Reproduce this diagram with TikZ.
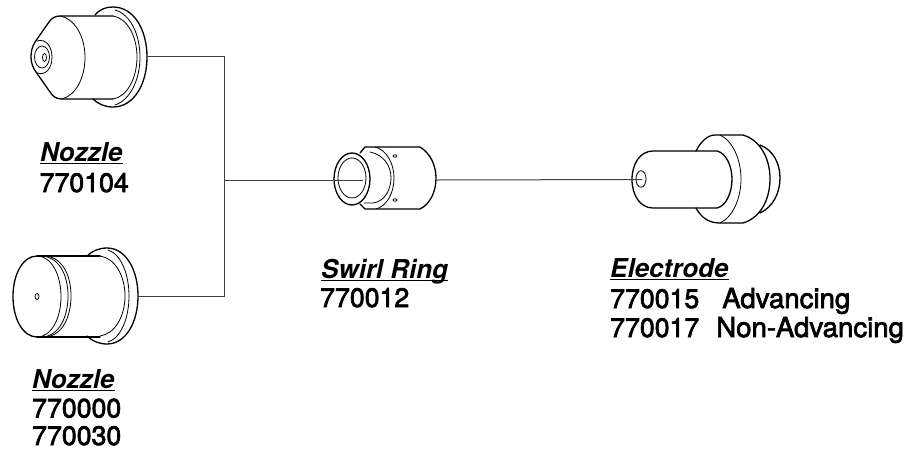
\documentclass[tikz,border=0pt]{standalone}
\usepackage{fontspec}
\setmainfont{TeX Gyre Heros}
\newfontfamily\medfont[FakeBold=2.5]{TeX Gyre Heros}
\tikzset{
  part/.style={draw=black,line width=1.3pt,line join=round,line cap=round},
  thin part/.style={draw=black,line width=0.8pt,line cap=round},
  wire/.style={draw=black!75,line width=1pt},
  lbl/.style={anchor=base west,inner sep=0pt,font=\fontsize{26.7}{29}\selectfont\medfont},
  ttlbl/.style={anchor=base west,inner sep=0pt,font=\fontsize{26}{29}\selectfont\bfseries\itshape},
}
\newcommand{\ttl}[1]{\setbox0=\hbox{#1}\rlap{\rule[-3.4pt]{\wd0}{1.3pt}}\box0}
\newcommand{\wrd}[1]{{\fontsize{27.6}{29}\selectfont #1}}
\begin{document}
\begin{tikzpicture}[x=1pt,y=-1pt]
\useasboundingbox (0,0) rectangle (909,450);
% Nozzle 1
\draw[part] (95,15) .. controls (100,9) and (106,7) .. (113,7) .. controls (134,7) and (147,30) .. (147,57) .. controls (147,84) and (134,107) .. (113,107) .. controls (105,107) and (98,104) .. (93,99);
\draw[thin part] (115,10) .. controls (130,14) and (140,34) .. (140,57) .. controls (140,80) and (130,100) .. (115,105);
\draw[thin part] (113,16) .. controls (127,18) and (137,36) .. (137,57) .. controls (137,78) and (127,97) .. (113,99);
\draw[part] (113,16) -- (60,16) .. controls (55,16) and (52,18) .. (49,22) -- (35,42) .. controls (32,47) and (31,52) .. (31,57) .. controls (31,63) and (33,68) .. (36,72) -- (50,92) .. controls (53,97) and (57,99) .. (62,99) -- (113,99);
\draw[thin part] (60,16) .. controls (74,18) and (85,36) .. (85,57) .. controls (85,78) and (76,95) .. (62,99);
\draw[thin part] (37,41) .. controls (46,38) and (52,47) .. (52,57) .. controls (52,68) and (46,76) .. (37,73);
\draw[thin part] (42,57) ellipse [x radius=7.5,y radius=11];
\draw[thin part] (44.5,57.5) ellipse [x radius=2,y radius=4];
\coordinate (n1) at (147,56);
% Nozzle 2
\draw[part] (87,256) .. controls (92,251) and (99,248) .. (107,248) .. controls (126,248) and (138,270) .. (138,296) .. controls (138,322) and (126,344) .. (107,344) .. controls (99,344) and (92,341) .. (87,336);
\draw[thin part] (108,250) .. controls (121,254) and (129,274) .. (129,296) .. controls (129,318) and (121,338) .. (108,342);
\draw[thin part] (100,256) .. controls (115,258) and (125,276) .. (125,296) .. controls (125,316) and (115,334) .. (100,336);
\draw[part] (37,256) -- (100,256);
\draw[part] (37,337) -- (100,337);
\draw[part] (37,256) .. controls (23,256) and (13,274) .. (13,296.5) .. controls (13,319) and (23,337) .. (37,337);
\draw[thin part] (37,256) .. controls (51,256) and (61,274) .. (61,296.5) .. controls (61,319) and (51,337) .. (37,337);
\draw[thin part] (43,256) .. controls (60,258) and (68,276) .. (68,296) .. controls (68,316) and (60,335) .. (43,337);
\draw[thin part] (46,256) .. controls (63,258) and (71,276) .. (71,296) .. controls (71,316) and (63,335) .. (46,337);
\draw[thin part] (37,296.5) ellipse [x radius=2,y radius=3];
\coordinate (n2) at (138,296);
% Swirl ring
\draw[part] (360,153) -- (365,147) -- (420,147) .. controls (430,153) and (436,165) .. (436,178) .. controls (436,192) and (430,204) .. (420,209) -- (365,209) -- (360,204);
\draw[thin part] (375,147) .. controls (387,150) and (394,164) .. (394,178) .. controls (394,193) and (387,206) .. (376,209);
\draw[thin part] (370,152) .. controls (384,155) and (391,166) .. (391,178) .. controls (391,190) and (384,202) .. (373,203) -- (364,203);
\draw[part] (352,179) ellipse [x radius=18,y radius=26];
\draw[thin part] (352,178) ellipse [x radius=14,y radius=20];
\draw[thin part] (395,156) ellipse [x radius=2,y radius=1.2];
\draw[thin part] (395,200) ellipse [x radius=2,y radius=1.2];
\coordinate (s2) at (363,180);
\coordinate (s3) at (437,180);
% Electrode
\draw[part] (696,151) .. controls (701,141) and (708,135) .. (715,135) -- (743,135) .. controls (760,140) and (770,158) .. (770,179) .. controls (770,200) and (760,218) .. (743,223) -- (720,223) .. controls (708,223) and (701,217) .. (696,208);
\draw[thin part] (720,135) .. controls (733,141) and (741,160) .. (741,179) .. controls (741,198) and (733,217) .. (720,223);
\draw[part] (760,145) .. controls (773,150) and (780,163) .. (780,178) .. controls (780,193) and (773,207) .. (760,213);
\draw[part] (653,151) -- (717,151) .. controls (726,153) and (732,166) .. (732,179) .. controls (732,193) and (726,206) .. (717,208) -- (653,208) .. controls (640,208) and (632,195) .. (632,179.5) .. controls (632,164) and (640,151) .. (653,151);
\draw[thin part] (641,179) ellipse [x radius=5,y radius=8.3];
\coordinate (e1) at (642,179.5);
% Connectors
\coordinate (jt) at (224,56);
\coordinate (jm) at (224,180);
\coordinate (jb) at (224,296);
\draw[wire] (n1) -- (jt) -- (jb) -- (n2);
\draw[wire] (jm) -- (s2);
\draw[wire] (s3) -- (e1);
% Labels
\node[ttlbl] (l1) at (40,161) {\ttl{Nozzle}};
\node[lbl] (l1b) at (39.5,192) {770104};
\node[ttlbl] (l2) at (32,388) {\ttl{Nozzle}};
\node[lbl] (l2b) at (32,417.5) {770000};
\node[lbl] (l2c) at (32,445) {770030};
\node[ttlbl] (l3) at (321,278) {\ttl{Swirl Ring}};
\node[lbl] (l3b) at (320,307) {770012};
\node[ttlbl] (l4) at (610,277) {\ttl{Electrode}};
\node[lbl] (l4b) at (610,308) {770015\hspace{23pt}\wrd{Advancing}};
\node[lbl] (l4c) at (610,337) {770017\hspace{17pt}\wrd{Non-Advancing}};
\end{tikzpicture}
\end{document}
